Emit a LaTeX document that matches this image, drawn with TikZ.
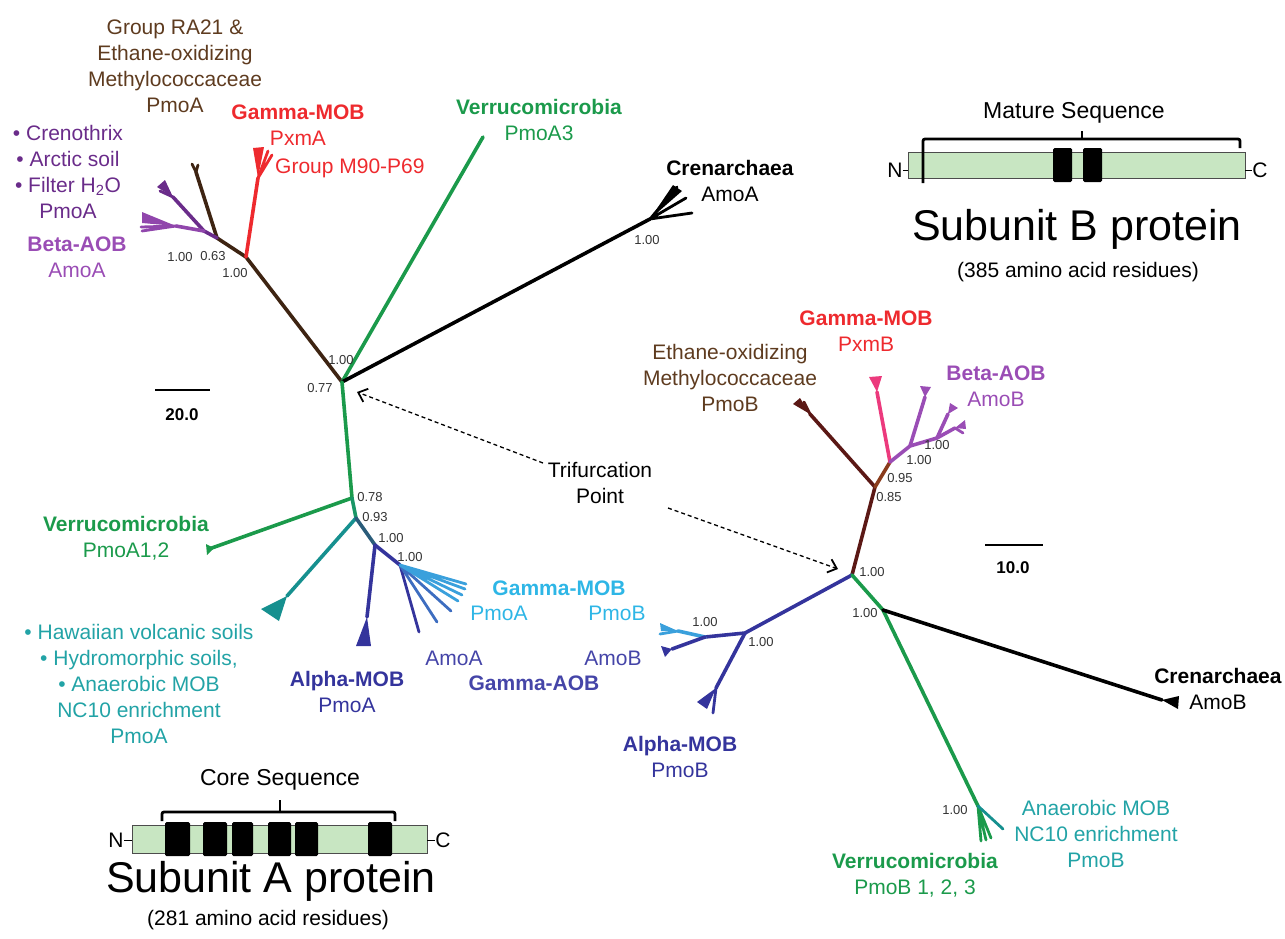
\documentclass[tikz,border=0pt]{standalone}
\usepackage{fontspec}
\setmainfont{Liberation Sans}
\usetikzlibrary{arrows.meta}
\definecolor{brownT}{HTML}{5E3B1F}
\definecolor{brownB}{HTML}{3E2412}
\definecolor{purpD}{HTML}{6A2C8A}
\definecolor{purpL}{HTML}{9A4DB5}
\definecolor{redc}{HTML}{EE2A2E}
\definecolor{greenc}{HTML}{1B9A4B}
\definecolor{tealT}{HTML}{22A3A6}
\definecolor{tealB}{HTML}{16908F}
\definecolor{tealD}{HTML}{2A5C7A}
\definecolor{indigo}{HTML}{34349C}
\definecolor{indigoT}{HTML}{4545A8}
\definecolor{blueM}{HTML}{3D6DC0}
\definecolor{blueL}{HTML}{3AA0DC}
\definecolor{blueT}{HTML}{2EB6E6}
\definecolor{brownR}{HTML}{5B1815}
\definecolor{brownR2}{HTML}{8A3C1C}
\definecolor{pinkc}{HTML}{EC3A7D}
\definecolor{protg}{HTML}{C8E6C2}
\tikzset{
  lab/.style={font=\fontsize{21}{26}\selectfont, align=center, inner sep=0pt},
  big/.style={font=\fontsize{43}{48}\selectfont, inner sep=0pt},
  bt/.style={font=\fontsize{13}{15}\selectfont, text=black!80, inner sep=0pt},
  br/.style={line width=3.6pt, line cap=round, line join=round},
  tw/.style={line width=2.8pt, line cap=round},
  dasharrow/.style={dashed, dash pattern=on 4pt off 3pt, line width=1.3pt, -{Straight Barb[length=8pt,width=14pt,line width=1.8pt]}},
  sbar/.style={line width=2.8pt},
  brk/.style={line width=2.8pt, rounded corners=2pt},
  blk/.style={fill=black, rounded corners=1.5pt},
}
\begin{document}
\begin{tikzpicture}[x=1pt,y=-1pt]
\useasboundingbox (0,0) rectangle (1285,938);

% ================= LEFT TREE (Subunit A) =================
\coordinate (T1) at (342,382);
\coordinate (N1) at (246,257);
\coordinate (N2) at (217,238);
\coordinate (P1) at (204,231);
\coordinate (Rf) at (258,178);
\coordinate (Bf) at (196,172);
\coordinate (Pu) at (173,197);
\coordinate (Pl) at (176,226);
\coordinate (Vt) at (483,137);
\coordinate (Cf) at (650,219);
\coordinate (V1) at (352,498);
\coordinate (Vl) at (209,549);
\coordinate (V2) at (356,518);
\coordinate (Tw) at (287,596);
\coordinate (V3) at (375,545);
\coordinate (Aw) at (367,617);
\coordinate (V4) at (400,565);

\draw[br,brownB] (T1) -- (N1) -- (N2) -- (Bf);
\draw[tw,brownB] (Bf) -- (192,164) (Bf) -- (198,165);
\draw[br,redc] (N1) -- (Rf);
\fill[redc] (Rf) -- (253,148) -- (264,147) -- cycle;
\draw[tw,redc] (Rf) -- (268,151) (Rf) -- (272,155);
\draw[br,purpD] (N2) -- (P1) -- (Pu);
\fill[purpD] (Pu) -- (157,187) -- (165,180) -- cycle;
\draw[tw,purpD] (Pu) -- (160,191);
\draw[br,purpL!80!purpD] (P1) -- (Pl);
\fill[purpL!80!purpD] (Pl) -- (142,212) -- (142,223) -- cycle;
\draw[tw,purpL!80!purpD] (Pl) -- (142,231) (Pl) -- (141,227);

\draw[br,greenc] (T1) -- (Vt);
\draw[br,black] (T1) -- (Cf);
\fill[black] (Cf) -- (673,185) -- (682,191) -- cycle;
\draw[tw,black] (Cf) -- (692,213) (Cf) -- (686,198) (Cf) -- (677,187);

\draw[br,greenc] (T1) -- (V1) -- (Vl);
\fill[greenc] (214,548) -- (206,544) -- (207,555) -- cycle;
\draw[br,greenc!60!tealB] (V1) -- (V2);
\draw[br,tealB] (V2) -- (Tw);
\fill[tealB] (Tw) -- (261,609) -- (279,621) -- cycle;
\draw[br,tealD] (V2) -- (V3);
\draw[br,indigo] (V3) -- (Aw);
\fill[indigo] (Aw) -- (356,646) -- (371,646) -- cycle;
\draw[br,indigo] (V3) -- (V4);
\draw[tw,indigo] (V4) -- (419,632);
\draw[tw,blueM] (V4) -- (437,622) (V4) -- (451,611);
\draw[tw,blueL] (V4) -- (458,601) (V4) -- (462,595) (V4) -- (465,589) (V4) -- (466,584);

% bootstrap values (left)
\node[bt] (bA1) at (341,360) {1.00};
\node[bt] (bA2) at (320,388) {0.77};
\node[bt] (bA3) at (180,257) {1.00};
\node[bt] (bA4) at (213,256) {0.63};
\node[bt] (bA5) at (235,273) {1.00};
\node[bt] (bA6) at (647,240) {1.00};
\node[bt] (bA7) at (370,497) {0.78};
\node[bt] (bA8) at (375,517) {0.93};
\node[bt] (bA9) at (391,538) {1.00};
\node[bt] (bA10) at (410,557) {1.00};

% labels (left)
\node[lab,text=brownT] (lRA) at (175,66) {Group RA21 \&\\Ethane-oxidizing\\Methylococcaceae\\PmoA};
\node[lab,text=purpD] (lCre) at (68,172) {• Crenothrix\\• Arctic soil\\• Filter H\textsubscript{2}O\\PmoA};
\node[lab,text=purpL] (lBA) at (77,257) {\textbf{Beta-AOB}\\AmoA};
\node[lab,text=redc] (lGA) at (298,125) {\textbf{Gamma-MOB}\\PxmA};
\node[lab,text=redc,anchor=west] (lM90) at (275,168) {Group M90-P69};
\node[lab,text=greenc] (lV3) at (539,120) {\textbf{Verrucomicrobia}\\PmoA3};
\node[lab,text=black] (lCrA) at (730,181) {\textbf{Crenarchaea}\\AmoA};
\node[lab,text=greenc] (lV12) at (126,538) {\textbf{Verrucomicrobia}\\PmoA1,2};
\node[lab,text=tealT] (lHaw) at (139,684) {• Hawaiian volcanic soils\\• Hydromorphic soils,\\• Anaerobic MOB\\NC10 enrichment\\PmoA};
\node[lab,text=indigo] (lAM) at (347,692) {\textbf{Alpha-MOB}\\PmoA};
\node[lab,text=indigoT] (lAmoA) at (454,658) {AmoA};
\node[lab,text=blueT] (lGMOB) at (559,588) {\textbf{Gamma-MOB}};
\node[lab,text=blueT] (lPmoA) at (499,613) {PmoA};
\node[lab,text=blueT] (lPmoB) at (617,613) {PmoB};
\node[lab,text=indigoT] (lAmoB) at (613,658) {AmoB};
\node[lab,text=indigoT] (lGAOB) at (534,683) {\textbf{Gamma-AOB}};

% scale bar left
\coordinate (sa1) at (155,390);
\coordinate (sa2) at (210,390);
\draw[sbar] (sa1) -- (sa2);
\node[font=\fontsize{17}{19}\selectfont\bfseries, inner sep=0pt] (sA) at (182,415) {20.0};

% ================= RIGHT TREE (Subunit B) =================
\coordinate (T2) at (852,575);
\coordinate (R1) at (875,487);
\coordinate (Ef) at (810,414);
\coordinate (R2) at (890,462);
\coordinate (Pk) at (877,392);
\coordinate (R3) at (910,446);
\coordinate (Ba) at (925,397);
\coordinate (R4) at (937,438);
\coordinate (Bb) at (948,414);
\coordinate (Bc) at (955,428);
\coordinate (R5) at (745,633);
\coordinate (R6) at (705,637);
\coordinate (Lf) at (678,631);
\coordinate (Ab) at (672,649);
\coordinate (Af) at (716,688);
\coordinate (G1) at (883,610);
\coordinate (Cr) at (1162,700);
\coordinate (G2) at (978,806);

\draw[br,brownR] (T2) -- (R1) -- (Ef);
\fill[brownR] (Ef) -- (793,404) -- (800,398) -- cycle;
\draw[tw,brownR] (Ef) -- (804,402);
\draw[br,brownR2] (R1) -- (R2);
\draw[br,pinkc] (R2) -- (Pk);
\fill[pinkc] (Pk) -- (869,377) -- (882,376) -- cycle;
\draw[br,purpL] (R2) -- (R3) -- (R4);
\draw[br,purpL] (R3) -- (Ba);
\fill[purpL] (Ba) -- (920,386) -- (931,387) -- cycle;
\draw[br,purpL] (R4) -- (Bb);
\fill[purpL] (Bb) -- (950,403) -- (958,408) -- cycle;
\draw[br,purpL] (R4) -- (Bc);
\fill[purpL] (Bc) -- (965,420) -- (966,429) -- cycle;
\draw[tw,purpL] (Bc) -- (963,433);

\draw[br,indigo] (T2) -- (R5) -- (R6);
\draw[br,blueL] (R6) -- (Lf);
\fill[blueL] (Lf) -- (660,623) -- (661,631) -- cycle;
\draw[tw,blueL] (Lf) -- (660,634);
\draw[br,indigo] (R6) -- (Ab);
\fill[indigo] (Ab) -- (661,646) -- (665,657) -- cycle;
\draw[br,indigo] (R5) -- (Af);
\fill[indigo] (Af) -- (697,702) -- (707,709) -- cycle;
\draw[tw,indigo] (Af) -- (713,713);

\draw[br,greenc] (T2) -- (G1) -- (G2);
\draw[br,black] (G1) -- (Cr);
\fill[black] (Cr) -- (1179,696) -- (1178,709) -- cycle;
\draw[tw,greenc] (G2) -- (981,841) (G2) -- (986,840) (G2) -- (991,838);
\draw[tw,tealB] (G2) -- (1003,829);

% bootstrap values (right)
\node[bt] (bB1) at (872,572) {1.00};
\node[bt] (bB2) at (889,497) {0.85};
\node[bt] (bB3) at (900,478) {0.95};
\node[bt] (bB4) at (919,460) {1.00};
\node[bt] (bB5) at (937,445) {1.00};
\node[bt] (bB6) at (761,642) {1.00};
\node[bt] (bB7) at (705,622) {1.00};
\node[bt] (bB8) at (865,613) {1.00};
\node[bt] (bB9) at (955,810) {1.00};

% labels (right)
\node[lab,text=brownT] (lEth) at (730,378) {Ethane-oxidizing\\Methylococcaceae\\PmoB};
\node[lab,text=redc] (lGB) at (866,331) {\textbf{Gamma-MOB}\\PxmB};
\node[lab,text=purpL] (lBB) at (996,386) {\textbf{Beta-AOB}\\AmoB};
\node[lab,text=black] (lCrB) at (1218,689) {\textbf{Crenarchaea}\\AmoB};
\node[lab,text=tealT] (lNC) at (1096,834) {Anaerobic MOB\\NC10 enrichment\\PmoB};
\node[lab,text=greenc] (lVB) at (915,875) {\textbf{Verrucomicrobia}\\PmoB 1, 2, 3};
\node[lab,text=indigo] (lAMB) at (680,757) {\textbf{Alpha-MOB}\\PmoB};

% scale bar right
\coordinate (sb1) at (985,545);
\coordinate (sb2) at (1043,545);
\draw[sbar] (sb1) -- (sb2);
\node[font=\fontsize{17}{19}\selectfont\bfseries, inner sep=0pt] (sB) at (1013,568) {10.0};

% ================= Trifurcation arrows =================
\node[lab,text=black] (tri) at (600,483) {Trifurcation\\Point};
\coordinate (a1s) at (543,463);
\coordinate (a1e) at (357,392);
\coordinate (a2s) at (668,508);
\coordinate (a2e) at (838,569);
\draw[dasharrow] (a1s) -- (a1e);
\draw[dasharrow] (a2s) -- (a2e);

% ================= Subunit B protein =================
\fill[protg] (908,152) rectangle (1245,178);
\draw[black!70, line width=0.8pt] (908,152) rectangle (1245,178);
\fill[blk] (1053,148) rectangle (1072,182);
\fill[blk] (1083,148) rectangle (1102,182);
\node[lab] (NB) at (895,170) {N};
\node[lab] (CB) at (1260,170) {C};
\draw[line width=1pt] (NB.east) -- (908,170);
\draw[line width=1pt] (1245,170) -- (CB.west);
\draw[brk] (923,183) -- (923,139) -- (1240,139) -- (1240,148);
\draw[line width=2.8pt] (1082,139) -- (1082,131);
\node[lab, font=\fontsize{23}{26}\selectfont] (mat) at (1074,113) {Mature Sequence};
\node[big] (subB) at (1077,229) {Subunit B protein};
\node[lab] (resB) at (1078,272) {(385 amino acid residues)};

% ================= Subunit A protein =================
\fill[protg] (132,825) rectangle (427,853);
\draw[black!70, line width=0.8pt] (132,825) rectangle (427,853);
\fill[blk] (165,822) rectangle (190,856);
\fill[blk] (203,822) rectangle (227,856);
\fill[blk] (232,822) rectangle (253,856);
\fill[blk] (268,822) rectangle (291,856);
\fill[blk] (295,822) rectangle (318,856);
\fill[blk] (368,822) rectangle (392,856);
\node[lab] (NA) at (116,840) {N};
\node[lab] (CA) at (443,840) {C};
\draw[line width=1pt] (NA.east) -- (132,840);
\draw[line width=1pt] (427,840) -- (CA.west);
\draw[brk] (162,821) -- (162,812) -- (395,812) -- (395,821);
\draw[line width=2.8pt] (280,812) -- (280,800);
\node[lab, font=\fontsize{23}{26}\selectfont] (core) at (280,780) {Core Sequence};
\node[big] (subA) at (271,881) {Subunit A protein};
\node[lab] (resA) at (268,920) {(281 amino acid residues)};
\end{tikzpicture}
\end{document}
